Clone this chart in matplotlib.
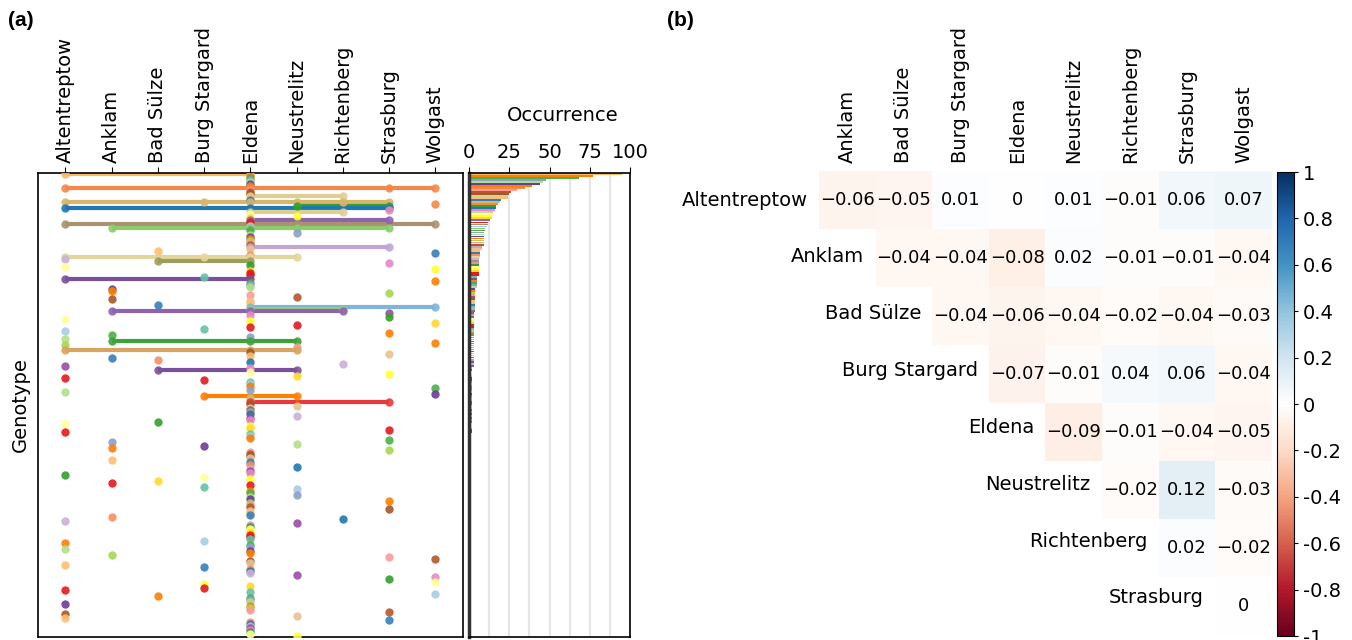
import matplotlib
matplotlib.use('Agg')
import matplotlib.pyplot as plt
from matplotlib.colors import LinearSegmentedColormap
import numpy as np

# sampling sites (codes used in genotype_sites below)
sites = ['Altentreptow', 'Anklam', 'Bad Sülze', 'Burg Stargard', 'Eldena',
         'Neustrelitz', 'Richtenberg', 'Strasburg', 'Wolgast']
site_codes = 'AKBGENRSW'

# sites where each genotype was found, genotypes sorted by occurrence
genotype_sites = [
    'AE', 'E', 'E', 'E', 'E', 'E', 'E', 'AESW', 'E', 'E',
    'E', 'ER', 'E', 'E', 'AGENRS', 'W', 'NS', 'AES', 'S', 'ER',
    'E', 'N', 'E', 'ES', 'E', 'ANW', 'E', 'KENS', 'E', 'N',
    'E', 'E', 'E', 'E', 'E', 'E', 'ES', 'E', 'B', 'W',
    'E', 'AGEN', 'A', 'BE', 'S', 'E', 'A', 'W', 'E', 'E',
    'E', 'G', 'AE', 'W', 'E', 'E', 'E', 'K', 'K', 'S',
    'E', 'N', 'K', 'E', 'E', 'B', 'EW', 'ER', 'KER', 'S',
    'E', 'S', 'A', 'E', 'W', 'N', 'E', 'G', 'A', 'S',
    'K', 'E', 'A', 'KEN', 'W', 'A', 'N', 'AEN', 'E', 'S',
    'E', 'K', 'B', 'E', 'R', 'A', 'E', 'BN', 'E', 'S',
    'N', 'A', 'G', 'E', 'E', 'E', 'W', 'E', 'A', 'W',
    'GN', 'E', 'E', 'ES', 'E', 'N', 'E', 'E', 'E', 'E',
    'N', 'E', 'E', 'B', 'A', 'E', 'E', 'S', 'A', 'E',
    'E', 'E', 'S', 'K', 'N', 'G', 'K', 'S', 'E', 'E',
    'E', 'E', 'K', 'E', 'E', 'N', 'E', 'E', 'E', 'A',
    'G', 'E', 'B', 'K', 'E', 'G', 'N', 'E', 'E', 'N',
    'E', 'E', 'S', 'E', 'E', 'E', 'S', 'E', 'E', 'E',
    'K', 'R', 'A', 'N', 'E', 'E', 'E', 'E', 'E', 'E',
    'E', 'E', 'G', 'A', 'E', 'E', 'A', 'E', 'E', 'K',
    'S', 'W', 'E', 'E', 'A', 'G', 'E', 'E', 'E', 'N',
    'W', 'S', 'W', 'G', 'E', 'G', 'A', 'E', 'W', 'B',
    'E', 'E', 'E', 'A', 'E', 'E', 'E', 'S', 'A', 'N',
    'A', 'S', 'E', 'E', 'E', 'E', 'E', 'E', 'E', 'N',
]

occurrence = [
    95, 77, 68, 48, 46, 44, 39, 35, 30, 26,
    25, 24, 24, 20, 19, 18, 17, 17, 16, 15,
    15, 14, 14, 13, 12, 12, 11, 10, 10, 9,
    9, 9, 9, 9, 9, 9, 8, 8, 7, 7,
    7, 7, 6, 6, 6, 6, 6, 6, 6, 6,
    6, 5, 5, 5, 5, 5, 5, 4, 4, 4,
    4, 4, 4, 4, 4, 4, 4, 4, 4, 3,
    3, 3, 3, 3, 3, 3, 3, 3, 3, 3,
    3, 3, 3, 3, 3, 3, 3, 3, 3, 3,
    3, 3, 3, 3, 3, 3, 2, 2, 2, 2,
    2, 2, 2, 2, 2, 2, 2, 2, 2, 2,
    2, 2, 2, 2, 2, 2, 2, 2, 2, 2,
    2, 2, 2, 2, 2, 2, 2, 2, 2, 1,
    1, 1, 1, 1, 1, 1, 1, 1, 1, 1,
    1, 1, 1, 1, 1, 1, 1, 1, 1, 1,
    1, 1, 1, 1, 1, 1, 1, 1, 1, 1,
    1, 1, 1, 1, 1, 1, 1, 1, 1, 1,
    1, 1, 1, 1, 1, 1, 1, 1, 1, 1,
    1, 1, 1, 1, 1, 1, 1, 1, 1, 1,
    1, 1, 1, 1, 1, 1, 1, 1, 1, 1,
    1, 1, 1, 1, 1, 1, 1, 1, 1, 1,
    1, 1, 1, 1, 1, 1, 1, 1, 1, 1,
    1, 1, 1, 1, 1, 1, 1, 1, 1, 1,
]

# pairwise correlation between sites (upper triangle, row by row)
corr_rows = sites[:-1]
corr_cols = sites[1:]
corr_values = [
    [-0.06, -0.05, 0.01, 0.00, 0.01, -0.01, 0.06, 0.07],
    [-0.04, -0.04, -0.08, 0.02, -0.01, -0.01, -0.04],
    [-0.04, -0.06, -0.04, -0.02, -0.04, -0.03],
    [-0.07, -0.01, 0.04, 0.06, -0.04],
    [-0.09, -0.01, -0.04, -0.05],
    [-0.02, 0.12, -0.03],
    [0.02, -0.02],
    [0.00],
]
cbar_ticks = [-1, -0.8, -0.6, -0.4, -0.2, 0, 0.2, 0.4, 0.6, 0.8, 1]
cbar_labels = ['-1', '-0.8', '-0.6', '-0.4', '-0.2', '0', '0.2', '0.4', '0.6', '0.8', '1']

# colours
palette = (list(plt.get_cmap('Paired').colors) + list(plt.get_cmap('Set1').colors[:7])
           + list(plt.get_cmap('Set2').colors[:7]))
line_colors = {
    0: '#fdb863', 7: '#f4874b', 11: '#dccf95', 14: '#d9b56b', 16: '#33a02c',
    17: '#1f78b4', 19: '#dccf95', 23: '#8e63ae', 25: '#a89270', 27: '#8ccc6c',
    36: '#c0a6d0', 41: '#e2d69a', 43: '#9e9a60', 52: '#7a4f9e', 66: '#7fb6d8',
    67: '#96cd7a', 68: '#8e63ae', 83: '#3da23a', 87: '#d9a45f', 97: '#7a4f9e',
    110: '#ff7f00', 113: '#e8393c', 15: '#f4874b',
}
rdbu_white = LinearSegmentedColormap.from_list(
    'rdbu_white', ['#67001f', '#b2182b', '#d6604d', '#f4a582', '#fddbc7', '#ffffff',
                   '#d1e5f0', '#92c5de', '#4393c3', '#2166ac', '#053061'])

n = len(occurrence)
row_colors = [line_colors.get(i, palette[(i * 7) % len(palette)]) for i in range(n)]

fig = plt.figure(figsize=(13.52, 6.4), dpi=100)

# ---- (a) genotype x site matrix
ax = fig.add_axes([0.0279, 0.0047, 0.3146, 0.725])
for i, codes in enumerate(genotype_sites):
    xs = [site_codes.index(c) for c in codes]
    col = row_colors[i]
    if len(xs) > 1:
        ax.plot([min(xs), max(xs)], [i, i], color=col, lw=3, solid_capstyle='butt', zorder=2)
    ax.scatter(xs, [i] * len(xs), s=36, color=col, linewidths=0, alpha=0.9, zorder=3)
ax.set_xlim(-0.6, 8.6)
ax.set_ylim(n - 0.5, -0.5)
ax.xaxis.tick_top()
ax.set_xticks(range(len(sites)))
ax.set_xticklabels(sites, rotation=90, fontsize=14)
ax.tick_params(axis='x', length=4, pad=3)
ax.set_yticks([])
ax.set_ylabel('Genotype', fontsize=14, labelpad=6)
for sp in ax.spines.values():
    sp.set_linewidth(1.2)

# occurrence bars
axb = fig.add_axes([0.3469, 0.0047, 0.1191, 0.725])
axb.barh(range(n), occurrence, height=0.9, color=row_colors, zorder=2)
axb.set_xlim(0, 100)
axb.set_ylim(n - 0.5, -0.5)
axb.xaxis.tick_top()
axb.set_xticks([0, 25, 50, 75, 100])
axb.set_xticks(np.arange(0, 101, 12.5), minor=True)
axb.tick_params(axis='x', labelsize=14, length=4, pad=4)
axb.tick_params(axis='x', which='minor', length=0)
axb.grid(which='both', axis='x', color='#e6e6e6', lw=1.5, zorder=0)
axb.xaxis.set_label_position('top')
axb.set_xlabel('Occurrence', fontsize=14, labelpad=16)
axb.xaxis.label.set_x(0.58)
axb.set_yticks([])
for sp in axb.spines.values():
    sp.set_linewidth(1.2)
axb.spines['left'].set_linewidth(2.5)
axb.spines['left'].set_color('#333333')

# ---- (b) correlation heatmap
m = len(corr_rows)
mat = np.full((m, m), np.nan)
for i, vals in enumerate(corr_values):
    mat[i, i:] = vals

axh = fig.add_axes([0.6058, 0.0078, 0.335, 0.725])
im = axh.imshow(mat, cmap=rdbu_white, vmin=-1, vmax=1, aspect='auto')
axh.xaxis.tick_top()
axh.set_xticks(range(m))
axh.set_xticklabels(corr_cols, rotation=90, fontsize=14)
axh.tick_params(axis='x', length=0, pad=6)
axh.set_yticks([])
for sp in axh.spines.values():
    sp.set_visible(False)
for i, vals in enumerate(corr_values):
    for k, v in enumerate(vals):
        j = i + k
        txt = '0' if v == 0 else f'{v:.2f}'.replace('-', '\u2212')
        axh.text(j, i, txt, ha='center', va='center', fontsize=13)
    axh.text(i - 0.5 - 0.2, i - 0.02 * i, corr_rows[i], ha='right', va='center', fontsize=14)

cax = fig.add_axes([0.9445, 0.00625, 0.01257, 0.725])
cb = fig.colorbar(im, cax=cax, ticks=cbar_ticks)
cb.ax.set_yticklabels(cbar_labels, fontsize=14)
cb.ax.tick_params(length=3)
cb.outline.set_linewidth(0.8)

fig.text(8 / 1352, 1 - 11 / 640, '(a)', fontsize=15, fontweight='bold',
         family=['Liberation Sans', 'DejaVu Sans'], va='top')
fig.text(667 / 1352, 1 - 11 / 640, '(b)', fontsize=15, fontweight='bold',
         family=['Liberation Sans', 'DejaVu Sans'], va='top')

fig.savefig('out.png', dpi=100)
